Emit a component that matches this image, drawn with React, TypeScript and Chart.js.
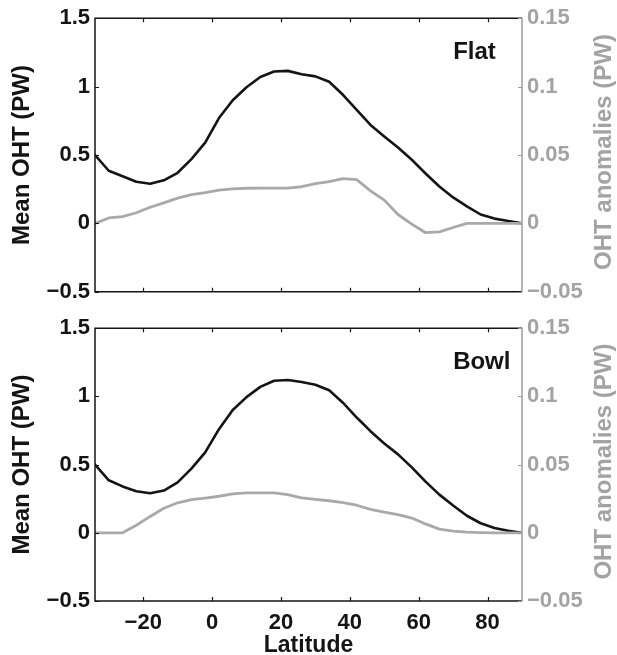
import React, { useEffect, useRef } from "react";
import { Chart, registerables } from "chart.js";

Chart.register(...registerables);

// Latitude grid (degrees) shared by every series
const latitude = [
  -34, -30, -26, -22, -18, -14, -10, -6, -2, 2, 6, 10, 14, 18, 22, 26,
  30, 34, 38, 42, 46, 50, 54, 58, 62, 66, 70, 74, 78, 82, 86, 90,
];

// Flat topography: mean ocean heat transport (PW) and its anomaly (PW)
const flatMean = [
  0.5, 0.385, 0.345, 0.305, 0.29, 0.315, 0.37, 0.47, 0.59, 0.77, 0.9, 0.995,
  1.07, 1.11, 1.115, 1.09, 1.075, 1.035, 0.94, 0.83, 0.72, 0.635, 0.555,
  0.465, 0.365, 0.27, 0.19, 0.125, 0.065, 0.035, 0.018, 0.0,
];
const flatAnom = [
  0.0, 0.004, 0.005, 0.0078, 0.0118, 0.015, 0.0185, 0.021, 0.0225, 0.0243,
  0.0253, 0.0257, 0.0258, 0.0258, 0.0258, 0.0268, 0.029, 0.0305, 0.0328,
  0.032, 0.0238, 0.017, 0.0065, -0.0005, -0.0068, -0.0062, -0.003, 0.0, 0.0,
  0.0, 0.0, 0.0,
];

// Bowl topography
const bowlMean = [
  0.5, 0.385, 0.34, 0.305, 0.29, 0.31, 0.37, 0.47, 0.59, 0.76, 0.9, 0.995,
  1.07, 1.115, 1.12, 1.105, 1.085, 1.045, 0.954, 0.845, 0.745, 0.655, 0.575,
  0.48, 0.375, 0.28, 0.2, 0.125, 0.07, 0.035, 0.015, 0.0,
];
const bowlAnom = [
  0.0, 0.0, 0.0, 0.0055, 0.012, 0.018, 0.022, 0.0243, 0.0255, 0.0268, 0.0285,
  0.0292, 0.0292, 0.0292, 0.028, 0.0256, 0.0245, 0.0235, 0.0222, 0.0202,
  0.0172, 0.0152, 0.0133, 0.0108, 0.0065, 0.0027, 0.0012, 0.0005, 0.0002, 0.0,
  0.0, 0.0,
];

// Axis ticks
const xTickValues = [-20, 0, 20, 40, 60, 80];
const meanTicks = [-0.5, 0, 0.5, 1, 1.5];
const anomTicks = [-0.05, 0, 0.05, 0.1, 0.15];

const X_MIN = -34;
const X_MAX = 90;

const FONT = "'Liberation Sans', Arial, Helvetica, sans-serif";
const INK = "#141414";
const GRAY_LINE = "#a9a9a9";
const GRAY_AXIS = "#9c9c9c";
const GRAY_TEXT = "#a3a3a3";

const fmt = (v: number) => {
  const r = parseFloat(v.toFixed(3));
  return r < 0 ? "\u2212" + String(Math.abs(r)) : String(r);
};

// Box frame with inward ticks, panel name and rotated axis titles
const framePlugin = {
  id: "frame",
  afterDraw(chart: any, _args: any, opts: any) {
    const { ctx, chartArea: a, scales } = chart;
    const x = scales.x;
    const y = scales.y;
    const y1 = scales.y1;
    ctx.save();

    ctx.lineCap = "butt";
    ctx.strokeStyle = INK;
    ctx.lineWidth = 1.5;
    ctx.beginPath();
    ctx.moveTo(a.right, a.top);
    ctx.lineTo(a.left, a.top);
    ctx.lineTo(a.left, a.bottom);
    ctx.lineTo(a.right, a.bottom);
    ctx.stroke();

    ctx.lineWidth = 1.2;
    ctx.beginPath();
    for (const v of xTickValues) {
      const px = Math.round(x.getPixelForValue(v)) + 0.5;
      ctx.moveTo(px, a.bottom);
      ctx.lineTo(px, a.bottom - 4);
      ctx.moveTo(px, a.top);
      ctx.lineTo(px, a.top + 4);
    }
    for (const v of meanTicks) {
      const py = Math.round(y.getPixelForValue(v)) + 0.5;
      ctx.moveTo(a.left, py);
      ctx.lineTo(a.left + 4, py);
    }
    ctx.stroke();

    ctx.strokeStyle = GRAY_AXIS;
    ctx.lineWidth = 1.5;
    ctx.beginPath();
    ctx.moveTo(a.right, a.top - 0.75);
    ctx.lineTo(a.right, a.bottom + 0.75);
    ctx.stroke();
    ctx.lineWidth = 1.2;
    ctx.beginPath();
    for (const v of anomTicks) {
      const py = Math.round(y1.getPixelForValue(v)) + 0.5;
      ctx.moveTo(a.right, py);
      ctx.lineTo(a.right - 4, py);
    }
    ctx.stroke();

    // panel name
    ctx.fillStyle = INK;
    ctx.font = `bold 24px ${FONT}`;
    ctx.textAlign = "left";
    ctx.textBaseline = "middle";
    ctx.fillText(opts.label, x.getPixelForValue(70), y.getPixelForValue(1.25));

    const midY = (a.top + a.bottom) / 2;
    ctx.textAlign = "center";
    ctx.textBaseline = "middle";

    ctx.save();
    ctx.translate(22, midY);
    ctx.rotate(-Math.PI / 2);
    ctx.fillStyle = INK;
    ctx.fillText("Mean OHT (PW)", 0, 0);
    ctx.restore();

    ctx.save();
    ctx.translate(604, midY - 3);
    ctx.rotate(-Math.PI / 2);
    ctx.fillStyle = GRAY_TEXT;
    ctx.fillText("OHT anomalies (PW)", 0, 0);
    ctx.restore();

    if (opts.xTitle) {
      ctx.fillStyle = INK;
      ctx.font = `bold 23px ${FONT}`;
      ctx.fillText(opts.xTitle, (a.left + a.right) / 2, a.bottom + 45);
    }
    ctx.restore();
  },
};

type PanelProps = {
  label: string;
  mean: number[];
  anom: number[];
  height: number;
  padTop: number;
  xAxisHeight: number;
  padBottom: number;
  showX: boolean;
};

function Panel({ label, mean, anom, height, padTop, xAxisHeight, padBottom, showX }: PanelProps) {
  const ref = useRef<HTMLCanvasElement | null>(null);

  useEffect(() => {
    if (!ref.current) return;
    const noGrid = { display: false, drawTicks: false, tickLength: 0 };
    const chart = new Chart(ref.current, {
      type: "line",
      data: {
        datasets: [
          {
            data: anom.map((v, i) => ({ x: latitude[i], y: v })),
            yAxisID: "y1",
            borderColor: GRAY_LINE,
            borderWidth: 2.8,
            pointRadius: 0,
            tension: 0,
            borderJoinStyle: "round",
            borderCapStyle: "round",
          },
          {
            data: mean.map((v, i) => ({ x: latitude[i], y: v })),
            yAxisID: "y",
            borderColor: INK,
            borderWidth: 2.6,
            pointRadius: 0,
            tension: 0,
            borderJoinStyle: "round",
            borderCapStyle: "round",
          },
        ],
      },
      options: {
        animation: false,
        responsive: false,
        events: [],
        layout: { padding: { top: padTop, bottom: padBottom, left: 0, right: 0 } },
        plugins: {
          legend: { display: false },
          tooltip: { enabled: false },
          frame: { label, xTitle: showX ? "Latitude" : "" },
        } as any,
        scales: {
          x: {
            type: "linear",
            min: X_MIN,
            max: X_MAX,
            grid: noGrid,
            border: { display: false },
            afterBuildTicks: (s: any) => {
              s.ticks = xTickValues.map((v) => ({ value: v }));
            },
            afterFit: (s: any) => {
              s.height = xAxisHeight;
            },
            ticks: {
              display: showX,
              padding: 9,
              color: INK,
              maxRotation: 0,
              autoSkip: false,
              font: { family: FONT, size: 22, weight: "bold" },
              callback: (v: any) => fmt(Number(v)),
            },
          },
          y: {
            type: "linear",
            position: "left",
            min: -0.5,
            max: 1.5,
            grid: noGrid,
            border: { display: false },
            afterBuildTicks: (s: any) => {
              s.ticks = meanTicks.map((v) => ({ value: v }));
            },
            afterFit: (s: any) => {
              s.width = 95;
            },
            ticks: {
              padding: 5,
              color: INK,
              font: { family: FONT, size: 22, weight: "bold" },
              callback: (v: any) => fmt(Number(v)),
            },
          },
          y1: {
            type: "linear",
            position: "right",
            min: -0.05,
            max: 0.15,
            grid: noGrid,
            border: { display: false },
            afterBuildTicks: (s: any) => {
              s.ticks = anomTicks.map((v) => ({ value: v }));
            },
            afterFit: (s: any) => {
              s.width = 95;
            },
            ticks: {
              padding: 5,
              color: GRAY_TEXT,
              font: { family: FONT, size: 22, weight: "bold" },
              callback: (v: any) => fmt(Number(v)),
            },
          },
        },
      } as any,
      plugins: [framePlugin as any],
    });
    return () => chart.destroy();
  }, [label, mean, anom, height, padTop, xAxisHeight, padBottom, showX]);

  return <canvas ref={ref} width={617} height={height} style={{ display: "block" }} />;
}

export default function App() {
  return (
    <div style={{ position: "absolute", left: 0, top: 0, width: 617, height: 655, background: "#fff" }}>
      <Panel label="Flat" mean={flatMean} anom={flatAnom} height={310} padTop={18} xAxisHeight={0} padBottom={17} showX={false} />
      <Panel label="Bowl" mean={bowlMean} anom={bowlAnom} height={345} padTop={17} xAxisHeight={54} padBottom={0} showX={true} />
    </div>
  );
}
